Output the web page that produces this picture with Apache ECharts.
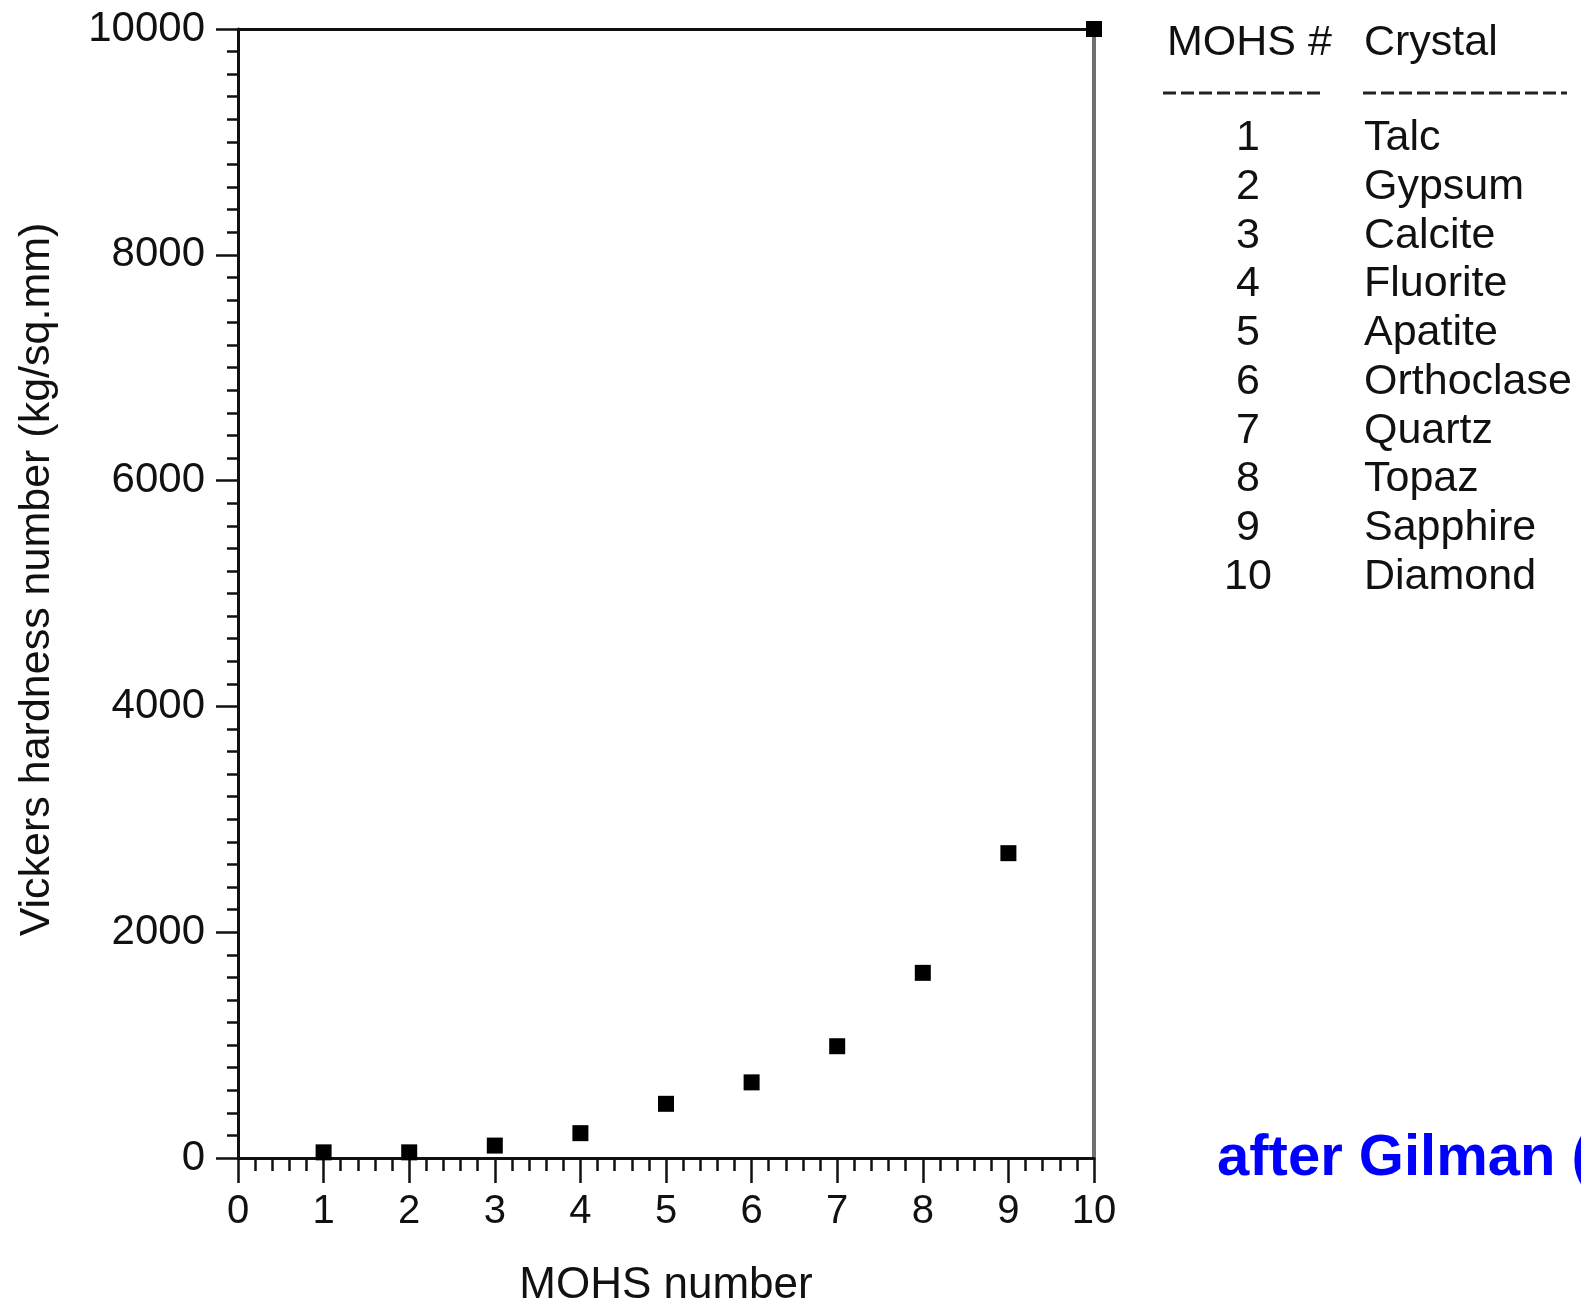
<!DOCTYPE html>
<html>
<head>
<meta charset="utf-8">
<script src="https://cdn.jsdelivr.net/npm/echarts@6/dist/echarts.min.js"></script>
<style>
html, body { margin: 0; padding: 0; background: #fff; }
#chart1 { width: 1581px; height: 1304px; }
</style>
</head>
<body>
<div id="chart1"></div>
<script>
var mohs = [1, 2, 3, 4, 5, 6, 7, 8, 9, 10];
var vickers = [50, 50, 110, 220, 480, 670, 990, 1640, 2700, 10000];
var crystals = ['Talc', 'Gypsum', 'Calcite', 'Fluorite', 'Apatite', 'Orthoclase', 'Quartz', 'Topaz', 'Sapphire', 'Diamond'];
var tableHeader = ['MOHS #', 'Crystal'];
var note = 'after Gilman (';

var font = '"Liberation Sans", Arial, Helvetica, sans-serif';
var chart1 = echarts.init(document.getElementById('chart1'));

// table on the right
var graphic = [
	{ type: 'text', x: 1167, y: 43, style: { text: tableHeader[0], fontSize: 43, fontFamily: font, fill: '#111', align: 'left', verticalAlign: 'middle' } },
	{ type: 'text', x: 1364, y: 43, style: { text: tableHeader[1], fontSize: 43, fontFamily: font, fill: '#111', align: 'left', verticalAlign: 'middle' } },
	{ type: 'line', shape: { x1: 1163, y1: 93, x2: 1322, y2: 93 }, style: { stroke: '#222', lineWidth: 3, lineDash: [13, 5] } },
	{ type: 'line', shape: { x1: 1363, y1: 93, x2: 1567, y2: 93 }, style: { stroke: '#222', lineWidth: 3, lineDash: [13, 5] } },
	{ type: 'text', x: 1217, y: 1159, style: { text: note, fontSize: 58, fontWeight: 'bold', fontFamily: font, fill: '#0000ff', align: 'left', verticalAlign: 'middle' } }
];
mohs.forEach(function (m, i) {
	var y = 138.5 + i * 48.7;
	graphic.push({ type: 'text', x: 1248, y: y, style: { text: String(m), fontSize: 43, fontFamily: font, fill: '#111', align: 'center', verticalAlign: 'middle' } });
	graphic.push({ type: 'text', x: 1364, y: y, style: { text: crystals[i], fontSize: 43, fontFamily: font, fill: '#111', align: 'left', verticalAlign: 'middle' } });
});

var option = {
	backgroundColor: '#fff',
	animation: false,
	grid: {
		left: 238,
		right: 487,
		top: 29,
		bottom: 146,
		containLabel: false,
		outerBoundsMode: 'none'
	},
	xAxis: [{
		type: 'value',
		min: 0,
		max: 10,
		interval: 1,
		name: 'MOHS number',
		nameLocation: 'middle',
		nameGap: 106,
		nameTextStyle: { fontSize: 44, fontFamily: font, color: '#111' },
		axisLine: { onZero: false, lineStyle: { color: '#111', width: 3 } },
		axisTick: { show: true, length: 25, lineStyle: { color: '#111', width: 2.5 } },
		minorTick: { show: true, splitNumber: 5, length: 13, lineStyle: { color: '#111', width: 2.5 } },
		axisLabel: { margin: 34, fontSize: 40, fontFamily: font, color: '#111' },
		splitLine: { show: false }
	}, {
		type: 'value',
		position: 'top',
		min: 0,
		max: 10,
		axisLine: { show: true, onZero: false, lineStyle: { color: '#111', width: 3 } },
		axisTick: { show: false },
		axisLabel: { show: false },
		splitLine: { show: false }
	}],
	yAxis: [{
		type: 'value',
		min: 0,
		max: 10000,
		interval: 2000,
		name: 'Vickers hardness number (kg/sq.mm)',
		nameLocation: 'middle',
		nameGap: 179,
		nameTextStyle: { fontSize: 43, fontFamily: font, color: '#111', padding: [0, 0, 0, 28] },
		axisLine: { show: true, onZero: false, lineStyle: { color: '#111', width: 3 } },
		axisTick: { show: true, length: 22, lineStyle: { color: '#111', width: 2.5 } },
		minorTick: { show: true, splitNumber: 10, length: 11, lineStyle: { color: '#111', width: 2.5 } },
		axisLabel: {
			margin: 33, fontSize: 42, fontFamily: font, color: '#111',
			formatter: function (v) { return String(v); }
		},
		splitLine: { show: false }
	}, {
		type: 'value',
		position: 'right',
		min: 0,
		max: 10000,
		axisLine: { show: true, onZero: false, lineStyle: { color: '#707070', width: 4 } },
		axisTick: { show: false },
		axisLabel: { show: false },
		splitLine: { show: false }
	}],
	series: [{
		type: 'scatter',
		symbol: 'rect',
		symbolSize: 16,
		clip: false,
		itemStyle: { color: '#000', opacity: 1 },
		data: mohs.map(function (m, i) { return [m, vickers[i]]; })
	}],
	graphic: graphic
};
chart1.setOption(option);
</script>
</body>
</html>
